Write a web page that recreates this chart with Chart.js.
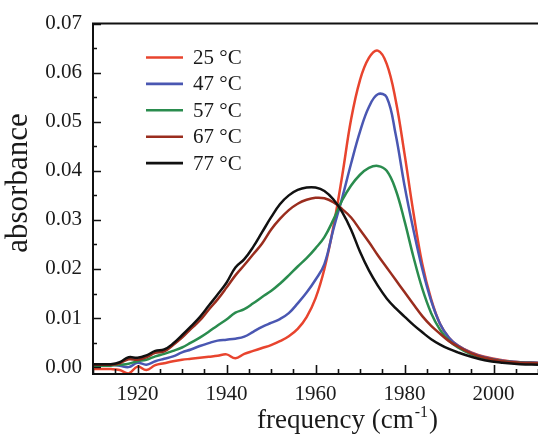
<!DOCTYPE html>
<html><head><meta charset="utf-8">
<script src="https://cdn.jsdelivr.net/npm/chart.js@4.4.1/dist/chart.umd.min.js"></script>
<style>html,body{margin:0;padding:0;background:#fff;}#wrap{width:538px;height:438px;}</style>
</head><body><div id="wrap"><canvas id="c" width="538" height="438"></canvas></div>
<script>
// ---- data ----
const frequency = [1910,1912,1914,1916,1918,1920,1922,1924,1926,1928,1930,1932,1934,1936,1938,1940,1942,1944,1946,1948,1950,1952,1954,1956,1958,1960,1962,1964,
  1966,1968,1970,1972,1974,1976,1978,1980,1982,1984,1986,1988,1990,1992,
  1995,1998,2002,2006,2010];
const seriesLabels = ['25 °C','47 °C','57 °C','67 °C','77 °C'];
const abs25 = [-0.0004,-0.0004,-0.0004,-0.0006,-0.0013,0.0001,-0.0006,0.0004,0.0008,0.0012,0.0015,0.0017,0.0019,0.0021,0.0023,0.0026,0.0018,0.0027,0.0033,0.0039,0.0045,0.0053,0.0063,0.0078,0.0102,0.0140,0.0200,0.0285,
  0.0390,0.0505,0.0585,0.0630,0.0645,0.0618,0.0545,0.0435,0.0315,0.0210,0.0138,0.0088,0.0060,0.0044,
  0.0030,0.0021,0.0014,0.0010,0.0009];
const abs47 = [0.0005,0.0005,0.0005,0.0003,0.0000,0.0009,0.0005,0.0012,0.0017,0.0022,0.0030,0.0036,0.0043,0.0049,0.0054,0.0056,0.0058,0.0062,0.0072,0.0082,0.0090,0.0098,0.0110,0.0130,0.0152,0.0178,0.0210,0.0280,
  0.0345,0.0415,0.0480,0.0530,0.0556,0.0550,0.0475,0.0370,0.0280,0.0200,0.0135,0.0088,0.0060,0.0044,
  0.0029,0.0020,0.0013,0.0010,0.0009];
const abs57 = [0.0003,0.0003,0.0003,0.0005,0.0007,0.0012,0.0015,0.0022,0.0027,0.0033,0.0040,0.0050,0.0060,0.0072,0.0085,0.0097,0.0111,0.0118,0.0130,0.0143,0.0155,0.0170,0.0187,0.0205,0.0222,0.0242,0.0265,0.0300,
  0.0340,0.0370,0.0392,0.0406,0.0410,0.0400,0.0362,0.0298,0.0225,0.0160,0.0110,0.0076,0.0054,0.0040,
  0.0026,0.0018,0.0012,0.0009,0.0008];
const abs67 = [0.0005,0.0005,0.0005,0.0008,0.0016,0.0015,0.0020,0.0029,0.0032,0.0045,0.0060,0.0078,0.0095,0.0117,0.0138,0.0162,0.0187,0.0208,0.0230,0.0252,0.0280,0.0302,0.0320,0.0333,0.0341,0.0345,0.0344,0.0336,
  0.0322,0.0305,0.0280,0.0255,0.0228,0.0203,0.0178,0.0153,0.0128,0.0104,0.0084,0.0068,0.0053,0.0042,
  0.0028,0.0019,0.0012,0.0009,0.0008];
const abs77 = [0.0006,0.0006,0.0006,0.0010,0.0020,0.0019,0.0024,0.0033,0.0036,0.0048,0.0065,0.0083,0.0102,0.0125,0.0148,0.0172,0.0203,0.0220,0.0245,0.0275,0.0305,0.0332,0.0350,0.0361,0.0366,0.0366,0.0359,0.0342,
  0.0316,0.0280,0.0235,0.0197,0.0166,0.0140,0.0120,0.0103,0.0086,0.0071,0.0057,0.0046,0.0037,0.0030,
  0.0021,0.0014,0.0009,0.0006,0.0005];
const xTickValues = [1920,1940,1960,1980,2000];
const yTickValues = [0.00,0.01,0.02,0.03,0.04,0.05,0.06,0.07];
const xMinorStep = 5;
const yMinorStep = 0.005;
const xTitle = 'frequency (cm';
const xTitleSup = '-1';
const yTitle = 'absorbance';

// ---- styles ----
const seriesColors = ['#e8442e','#4a57b2','#2a8c4e','#9a2d1e','#111111'];
const serif = '"Liberation Serif","Times New Roman",serif';

const allSeries = [abs25, abs47, abs57, abs67, abs77];
const datasets = allSeries.map((vals, i) => ({
  label: seriesLabels[i],
  data: frequency.map((f, k) => ({x: f, y: vals[k]})),
  borderColor: seriesColors[i],
  borderWidth: 2.5,
  pointRadius: 0,
  fill: false,
  tension: 0.4,
  order: allSeries.length - 1 - i
}));

const framePlugin = {
  id: 'frame',
  afterDraw(chart) {
    const {ctx, chartArea: a, scales: {x, y}} = chart;
    ctx.save();
    ctx.strokeStyle = '#111';
    ctx.lineWidth = 2;
    ctx.beginPath();
    ctx.moveTo(a.right + 2, a.top); ctx.lineTo(a.left, a.top);
    ctx.lineTo(a.left, a.bottom); ctx.lineTo(a.right + 2, a.bottom);
    ctx.stroke();
    // inward ticks
    ctx.lineWidth = 1.6;
    ctx.beginPath();
    const xMajor = new Set(xTickValues);
    for (let v = x.min; v <= x.max; v += xMinorStep) {
      const px = Math.round(x.getPixelForValue(v)) + 0.5;
      const L = xMajor.has(v) ? 9 : 5;
      ctx.moveTo(px, a.bottom); ctx.lineTo(px, a.bottom - L);
    }
    const nY = Math.round((yTickValues[yTickValues.length-1] - yTickValues[0]) / yMinorStep);
    for (let k = 0; k <= nY; k++) {
      const v = yTickValues[0] + k * yMinorStep;
      const py = Math.round(y.getPixelForValue(v)) + 0.5;
      const L = (k % 2 === 0) ? 8 : 4;
      ctx.moveTo(a.left, py); ctx.lineTo(a.left + L, py);
    }
    ctx.stroke();
    // legend
    ctx.font = '21px ' + serif;
    ctx.textBaseline = 'middle';
    ctx.textAlign = 'left';
    chart.data.datasets.forEach((ds, i) => {
      const ly = 57.5 + i * 26.4;
      ctx.strokeStyle = ds.borderColor;
      ctx.lineWidth = 2.6;
      ctx.beginPath(); ctx.moveTo(146, ly); ctx.lineTo(183, ly); ctx.stroke();
      ctx.fillStyle = '#1a1a1a';
      ctx.fillText(ds.label, 193, ly + 1);
    });
    // axis titles
    ctx.fillStyle = '#1a1a1a';
    ctx.font = '27px ' + serif;
    ctx.textBaseline = 'alphabetic';
    ctx.textAlign = 'left';
    const tx = 257, ty = 428;
    ctx.fillText(xTitle, tx, ty);
    const w1 = ctx.measureText(xTitle).width;
    ctx.font = '16px ' + serif;
    ctx.fillText(xTitleSup, tx + w1 + 1, ty - 11);
    const w2 = ctx.measureText(xTitleSup).width;
    ctx.font = '27px ' + serif;
    ctx.fillText(')', tx + w1 + w2 + 2, ty);
    ctx.save();
    ctx.translate(19, 183);
    ctx.rotate(-Math.PI / 2);
    ctx.font = '31px ' + serif;
    ctx.textAlign = 'center';
    ctx.textBaseline = 'middle';
    ctx.fillText(yTitle, 0, 0);
    ctx.restore();
    ctx.restore();
  }
};

new Chart(document.getElementById('c'), {
  type: 'line',
  data: { datasets },
  options: {
    responsive: false,
    animation: false,
    devicePixelRatio: 1,
    layout: { padding: { top: 22, right: 0, left: 0, bottom: 0 } },
    plugins: { legend: { display: false }, tooltip: { enabled: false } },
    scales: {
      x: {
        type: 'linear', min: 1910, max: 2010,
        grid: { display: false, drawTicks: false }, border: { display: false },
        afterBuildTicks: s => { s.ticks = xTickValues.map(v => ({ value: v })); },
        afterFit: s => { s.height = 64; },
        ticks: { font: { family: serif, size: 21 }, color: '#1a1a1a', padding: 8, maxRotation: 0, autoSkip: false, callback: v => String(v) }
      },
      y: {
        type: 'linear', min: -0.0014, max: 0.07,
        grid: { display: false, drawTicks: false }, border: { display: false },
        afterBuildTicks: s => { s.ticks = yTickValues.map(v => ({ value: v })); },
        afterFit: s => { s.width = 93; },
        ticks: { font: { family: serif, size: 21 }, color: '#1a1a1a', padding: 11, autoSkip: false, callback: v => Number(v).toFixed(2) }
      }
    }
  },
  plugins: [framePlugin]
});
</script>
</body></html>
